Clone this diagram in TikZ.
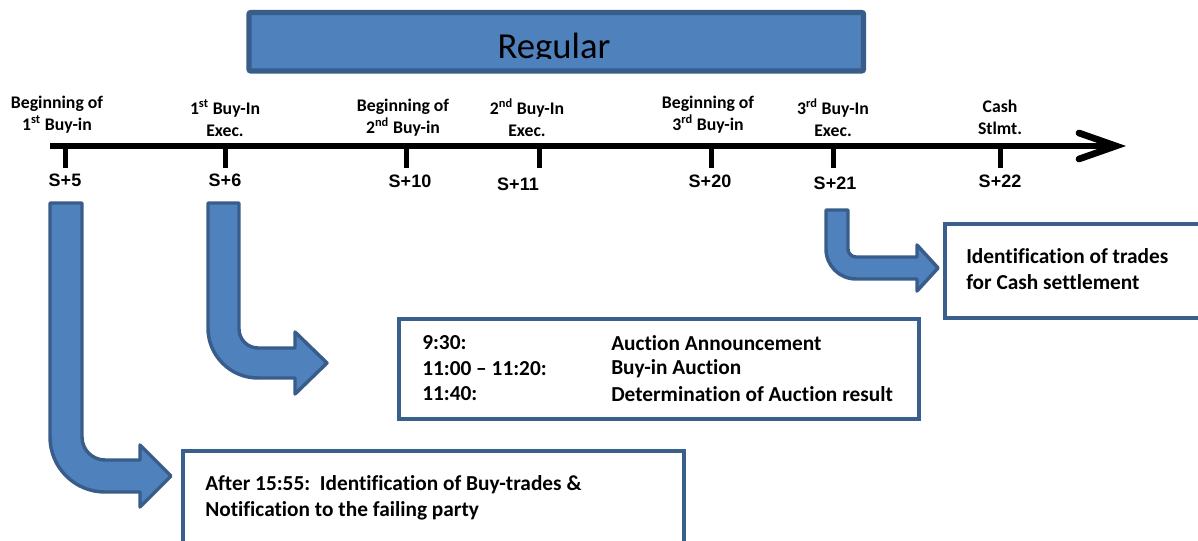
\documentclass[tikz,border=0pt]{standalone}
\usepackage{fontspec}
\setmainfont{Carlito}[Ligatures=NoCommon]
\newfontfamily\arialfont{Liberation Sans}
\definecolor{barfill}{HTML}{4F81BD}
\definecolor{bardraw}{HTML}{385D8A}
\definecolor{boxdraw}{HTML}{3B5F8D}
\begin{document}
\begin{tikzpicture}[x=0.75pt,y=-0.75pt,
  toplabel/.style={font=\fontsize{13.3}{16.5}\selectfont\bfseries,align=center,inner sep=0pt},
  slabel/.style={font=\arialfont\fontsize{13.5}{15}\selectfont\bfseries,inner sep=0pt},
  boxtext/.style={font=\fontsize{16}{19.5}\selectfont\bfseries,inner sep=0pt,anchor=west},
  infobox/.style={draw=boxdraw,line width=2.8pt,fill=white},
  bent/.style={fill=barfill,draw=bardraw,line width=2.6pt,line join=round},
  tick/.style={line width=3.75pt}]
\useasboundingbox (0,0) rectangle (1198,541);
\clip (0,0) rectangle (1198,541);
% Regular bar
\draw[fill=barfill,draw=bardraw,line width=4pt,rounded corners=1.5pt] (249,12.5) rectangle (863.5,71);
\begin{scope}
\clip (252,15) rectangle (861,59);
\node[font=\fontsize{27.5}{30}\selectfont,anchor=base,inner sep=0pt] (regular) at (554,59) {Regular};
\end{scope}
% timeline
\coordinate (tlstart) at (50,146);
\coordinate (tlend) at (1110,146);
\coordinate (chtop) at (1079,133);
\coordinate (chtip) at (1116,146);
\coordinate (chbot) at (1079,159);
\draw[line width=4.5pt] (tlstart) -- (tlend);
\draw[line width=5pt,line cap=round] (chtop) -- (chtip) -- (chbot);
% ticks
\foreach \n/\x in {t5/65,t6/225,t10/406,t11/539,t20/711,t21/833,t22/1000}{
  \coordinate (\n a) at (\x,146);
  \coordinate (\n b) at (\x,168);
  \draw[tick] (\n a) -- (\n b);
}
% top labels
\node[toplabel] (l5) at (57,114.5) {Beginning of\\1\textsuperscript{st} Buy-in};
\node[toplabel] (l6) at (225,118) {1\textsuperscript{st} Buy-In\\Exec.};
\node[toplabel] (l10) at (403,118) {Beginning of\\2\textsuperscript{nd} Buy-in};
\node[toplabel] (l11) at (527,118) {2\textsuperscript{nd} Buy-In\\Exec.};
\node[toplabel] (l20) at (708,114.5) {Beginning of\\3\textsuperscript{rd} Buy-in};
\node[toplabel] (l21) at (833,117.5) {3\textsuperscript{rd} Buy-In\\Exec.};
\node[toplabel] (l22) at (1000,117.5) {Cash\\Stlmt.};
% S labels
\node[slabel] (s5) at (65,180) {S+5};
\node[slabel] (s6) at (225,180) {S+6};
\node[slabel] (s10) at (410,181) {S+10};
\node[slabel] (s11) at (518,184) {S+11};
\node[slabel] (s20) at (710,181) {S+20};
\node[slabel] (s21) at (835,183) {S+21};
\node[slabel] (s22) at (1000,181) {S+22};
% bent arrows
\draw[bent] (50,203) -- (82,203) -- (82,437) .. controls (82,449.7) and (92.3,460) .. (105,460) -- (140,460) -- (140,445) -- (171,476) -- (140,507) -- (140,492) -- (105,492) .. controls (74.6,492) and (50,467.4) .. (50,437) -- cycle;
\draw[bent] (208,203) -- (239,203) -- (239,329) .. controls (239,339.5) and (247.5,348) .. (258,348) -- (295,348) -- (295,332) -- (327,363) -- (295,394) -- (295,378) -- (258,378) .. controls (230.4,378) and (208,355.6) .. (208,328) -- cycle;
\draw[bent] (826,210) -- (848,210) -- (848,249) .. controls (848,253.4) and (851.6,257) .. (856,257) -- (917,257) -- (917,245) -- (938,268) -- (917,291) -- (917,279) -- (856,279) .. controls (839.4,279) and (826,265.6) .. (826,249) -- cycle;
% boxes
\node[infobox,anchor=north west,minimum width=195pt,minimum height=70.5pt] (cashbox) at (943,222) {};
\node[boxtext] (cash1) at (966,256) {Identification of trades};
\node[boxtext] (cash2) at (966,282) {for Cash settlement};
\node[infobox,anchor=north west,minimum width=390pt,minimum height=75pt] (auctbox) at (397,317) {};
\node[boxtext] (a1t) at (422,343) {9:30:};
\node[boxtext] (a1d) at (611,343) {Auction Announcement};
\node[boxtext] (a2t) at (422,369) {11:00 -- 11:20:};
\node[boxtext] (a2d) at (611,369) {Buy-in Auction};
\node[boxtext] (a3t) at (422,394) {11:40:};
\node[boxtext] (a3d) at (611,394) {Determination of Auction result};
\node[infobox,anchor=north west,minimum width=375.75pt,minimum height=80pt] (notebox) at (181,449) {};
\node[boxtext] (n1) at (205,485) {After 15:55:\ \ Identification of Buy-trades \&};
\node[boxtext] (n2) at (205,511) {Notification to the failing party};
\end{tikzpicture}
\end{document}
